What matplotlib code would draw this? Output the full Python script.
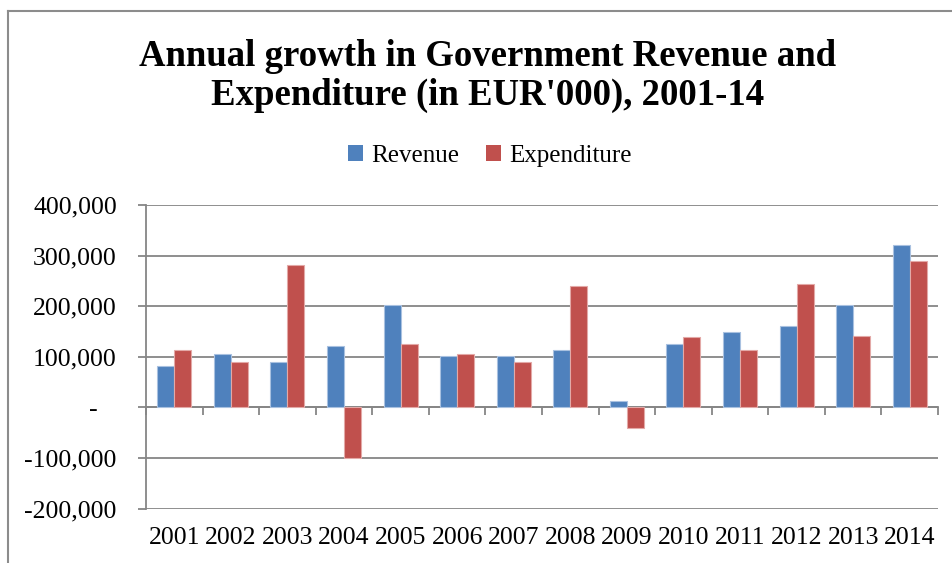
import numpy as np
import matplotlib
matplotlib.use("Agg")
import matplotlib.pyplot as plt
from matplotlib.lines import Line2D
from matplotlib.patches import Patch
from matplotlib.ticker import FuncFormatter, FixedLocator

years = ["2001", "2002", "2003", "2004", "2005", "2006", "2007",
         "2008", "2009", "2010", "2011", "2012", "2013", "2014"]
revenue = [82000, 105000, 90000, 121000, 202000, 102000, 102000,
           113000, 13000, 125000, 148000, 160000, 202000, 321000]
expenditure = [113000, 90000, 282000, -101000, 125000, 105000, 90000,
               240000, -40000, 140000, 113000, 243000, 141000, 290000]
series_names = ["Revenue", "Expenditure"]
title = "Annual growth in Government Revenue and\nExpenditure (in EUR'000), 2001-14"

blue = "#4F81BD"
red = "#C0504D"
grey = "#868686"

plt.rcParams['font.family'] = "Liberation Serif"

fig = plt.figure(figsize=(9.52, 5.63), dpi=100)
ax = fig.add_axes([146 / 952, 1 - 508.5 / 563, (938 - 146) / 952, (508.5 - 205) / 563])

x = np.arange(len(years))
w = 0.3
ax.bar(x - w / 2, revenue, w, color=blue, edgecolor="#A9C1E0", linewidth=0.8, zorder=3)
ax.bar(x + w / 2, expenditure, w, color=red, edgecolor="#E3A9A7", linewidth=0.8, zorder=3)

ymin, ymax = -200000, 400000
ax.set_ylim(ymin, ymax)
ax.set_xlim(-0.5, len(years) - 0.5)

# y axis: grey gridlines, accounting style labels
ax.set_yticks(np.arange(ymin, ymax + 1, 100000))
ax.yaxis.set_major_formatter(FuncFormatter(
    lambda v, p: "-   " if v == 0 else "{:,.0f}".format(v)))
ax.yaxis.grid(True, color=grey, lw=1.3, zorder=0)
ax.tick_params(axis="y", direction="out", length=6, width=1.3, color=grey,
               labelsize=18.5, pad=15)
for s in ["top", "right", "bottom"]:
    ax.spines[s].set_visible(False)
ax.spines["left"].set_color(grey)
ax.spines["left"].set_linewidth(1.3)

# year labels sit below the plot area
ax.set_xticks(x)
ax.set_xticklabels(years)
ax.tick_params(axis="x", length=0, labelsize=18.5, pad=13)

# category axis crossing at zero with ticks between categories
zero_frac = (0 - ymin) / (ymax - ymin)
cat_ax = ax.secondary_xaxis(zero_frac)
cat_ax.xaxis.set_major_locator(FixedLocator(np.arange(-0.5, len(years), 1.0)))
cat_ax.tick_params(axis="x", direction="out", length=6, width=1.3, color=grey,
                   labelbottom=False, labeltop=False)
for s in ["bottom", "top"]:
    cat_ax.spines[s].set_color(grey)
    cat_ax.spines[s].set_linewidth(1.3)

fig.text(488 / 952, 1 - 76 / 563, title, ha="center", va="center",
         fontsize=26.5, fontweight="bold", linespacing=1.15)

handles = [Patch(facecolor=blue), Patch(facecolor=red)]
fig.legend(handles, series_names, loc="center", bbox_to_anchor=(490 / 952, 1 - 156 / 563),
           ncol=2, frameon=False, fontsize=18, handlelength=0.6, handleheight=0.6,
           handletextpad=0.3, columnspacing=1.1)

# chart border
fig.add_artist(Line2D([8 / 952, 8 / 952], [0, 1 - 11 / 563], transform=fig.transFigure,
                      color="#8C8C8C", lw=1.5))
fig.add_artist(Line2D([8 / 952, 1], [1 - 11 / 563, 1 - 11 / 563], transform=fig.transFigure,
                      color="#8C8C8C", lw=1.5))

fig.savefig("out.png", dpi=100)
